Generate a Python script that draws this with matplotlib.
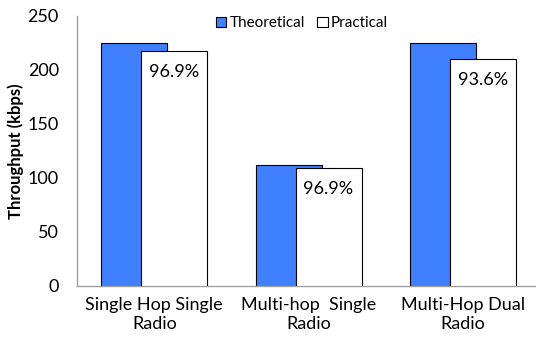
import matplotlib.pyplot as plt
import numpy as np

categories = ['Single Hop Single\nRadio', 'Multi-hop  Single\nRadio', 'Multi-Hop Dual\nRadio']
theoretical = [225, 112.5, 225]
practical = [218, 109, 210.6]
pct_labels = ['96.9%', '96.9%', '93.6%']

plt.rcParams['font.family'] = ['Lato', 'DejaVu Sans']

fig = plt.figure(figsize=(5.36, 3.46), dpi=100)
ax = fig.add_axes([77 / 536, 1 - 286 / 346, 459 / 536, 270 / 346])

x = np.arange(len(categories))
w = 0.427
b1 = ax.bar(x - 0.128, theoretical, w, color='#4080ff', edgecolor='black', linewidth=0.8,
            label='Theoretical', zorder=2)
b2 = ax.bar(x + 0.128, practical, w, color='white', edgecolor='black', linewidth=0.8,
            label='Practical', zorder=3)

for xi, val, lab in zip(x, practical, pct_labels):
    ax.text(xi + 0.128, val - 12, lab, ha='center', va='top', fontsize=13, zorder=4)

ax.set_xlim(-0.5, -0.5 + 459 / 154.5)
ax.set_ylim(0, 250)
ax.set_yticks([0, 50, 100, 150, 200, 250])
ax.set_xticks(x)
ax.set_xticklabels(categories, fontsize=13, linespacing=1.25)
ax.tick_params(axis='y', labelsize=13, length=0, pad=13)
ax.tick_params(axis='x', length=0, pad=8)
ax.set_ylabel('Throughput (kbps)', fontsize=12, fontweight='bold', labelpad=3)

for s in ['top', 'right']:
    ax.spines[s].set_visible(False)
for s in ['left', 'bottom']:
    ax.spines[s].set_color('#a0a0a0')
    ax.spines[s].set_linewidth(1)

ax.legend(loc='upper center', bbox_to_anchor=(0.49, 1.05), ncol=2, frameon=False,
          fontsize=11, handlelength=0.7, handleheight=0.7, handletextpad=0.2,
          columnspacing=0.8)

fig.savefig('out.png', dpi=100)
